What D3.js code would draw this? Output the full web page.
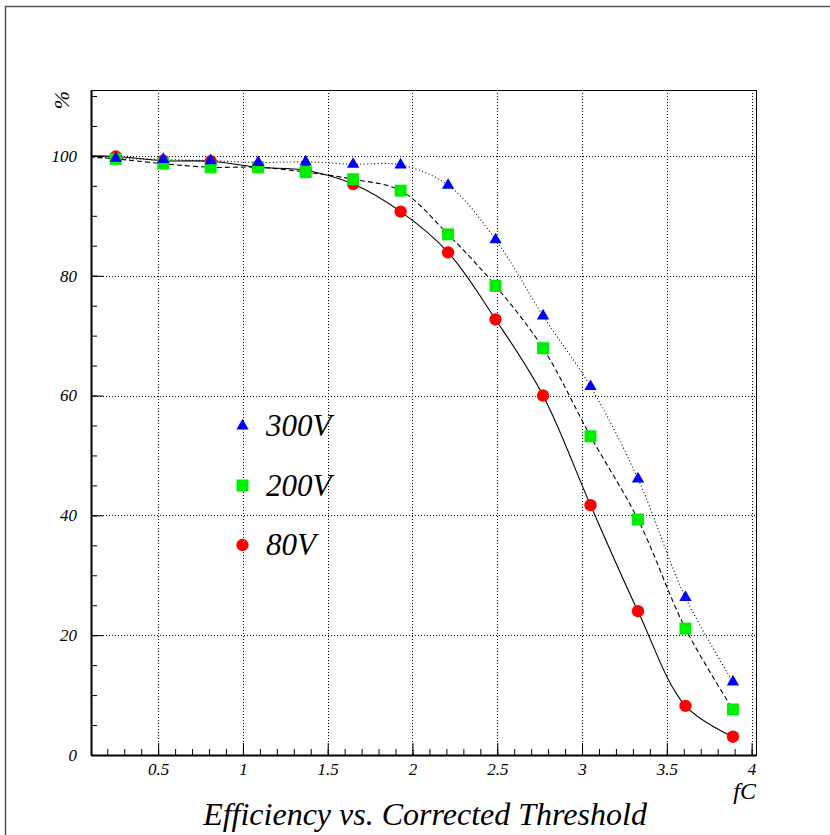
<!DOCTYPE html>
<html>
<head>
<meta charset="utf-8">
<script src="https://cdn.jsdelivr.net/npm/d3@7"></script>
<style>
  html, body { margin: 0; padding: 0; background: #fff; }
  svg { display: block; }
</style>
</head>
<body>
<svg id="chart" width="830" height="835"></svg>
<script>
// threshold (fC) of each measurement
const thresholds = [0.25, 0.53, 0.81, 1.09, 1.37, 1.65, 1.93, 2.21, 2.49, 2.77, 3.05, 3.33, 3.61, 3.89];
// efficiency (%) per bias voltage
const eff300 = [99.6, 99.4, 99.2, 98.9, 99.0, 98.6, 98.5, 95.1, 86.0, 73.3, 61.5, 46.1, 26.3, 12.2];
const eff200 = [99.5, 98.7, 98.1, 98.1, 97.3, 96.1, 94.2, 86.9, 78.3, 67.9, 53.2, 39.3, 21.1, 7.6];
const eff80 = [99.9, 99.2, 99.1, 98.1, 97.6, 95.3, 90.7, 83.9, 72.7, 60.0, 41.7, 24.0, 8.2, 3.05];
// curves start from full efficiency at zero threshold
const curveAnchor = { x: 0, y: 100 };

const xTicks = [0.5, 1, 1.5, 2, 2.5, 3, 3.5, 4];
const yTicks = [0, 20, 40, 60, 80, 100];
const legendLabels = ['300V', '200V', '80V'];

const FONT = 'Liberation Serif';

const svg = d3.select('#chart');
const frame = { left: 91, right: 756, top: 90, bottom: 755 };

const x = d3.scaleLinear().domain([0.104, 4.026]).range([frame.left, frame.right]);
const y = d3.scaleLinear().domain([0, 111]).range([frame.bottom, frame.top]);

// canvas border
svg.append('path')
  .attr('d', 'M5.5,835 L5.5,6.5 L830,6.5')
  .attr('fill', 'none').attr('stroke', '#555').attr('stroke-width', 1.5);

// grid
const grid = svg.append('g').attr('stroke', '#000').attr('stroke-width', 1).attr('stroke-dasharray', '1,2');
grid.selectAll('.vg').data(xTicks).join('line')
  .attr('x1', d => Math.round(x(d)) + 0.5).attr('x2', d => Math.round(x(d)) + 0.5)
  .attr('y1', frame.top).attr('y2', frame.bottom);
grid.selectAll('.hg').data(yTicks.filter(d => d > 0)).join('line')
  .attr('y1', d => Math.round(y(d)) + 0.5).attr('y2', d => Math.round(y(d)) + 0.5)
  .attr('x1', frame.left).attr('x2', frame.right);

// frame
svg.append('rect')
  .attr('x', frame.left + 0.5).attr('y', frame.top + 0.5)
  .attr('width', frame.right - frame.left).attr('height', frame.bottom - frame.top)
  .attr('fill', 'none').attr('stroke', '#000').attr('stroke-width', 1);

// axes: minor ticks, then major ticks with labels
const xMinor = d3.range(0.2, 4.001, 0.1);
const yMinor = d3.range(5, 111, 5);

svg.append('g').attr('transform', `translate(0,${frame.bottom})`)
  .call(d3.axisBottom(x).tickValues(xMinor).tickSize(-6).tickSizeOuter(0).tickFormat(''))
  .call(g => g.select('.domain').remove());
svg.append('g').attr('transform', `translate(${frame.left},0)`)
  .call(d3.axisLeft(y).tickValues(yMinor).tickSize(-6).tickSizeOuter(0).tickFormat(''))
  .call(g => g.select('.domain').remove());

const xAxis = svg.append('g').attr('transform', `translate(0,${frame.bottom})`)
  .call(d3.axisBottom(x).tickValues(xTicks).tickSize(-12).tickSizeOuter(0).tickPadding(8).tickFormat(d3.format('')));
xAxis.select('.domain').attr('stroke-width', 2);

const yAxis = svg.append('g').attr('transform', `translate(${frame.left},0)`)
  .call(d3.axisLeft(y).tickValues(yTicks).tickSize(-12).tickSizeOuter(0).tickPadding(14).tickFormat(d3.format('')));
yAxis.select('.domain').attr('stroke-width', 2);

[xAxis, yAxis].forEach(a => a.attr('font-family', FONT).attr('font-size', 17)
  .selectAll('text').attr('font-style', 'italic'));

// axis titles
const title = (sel) => sel.attr('font-family', FONT).attr('font-style', 'italic').attr('fill', '#000');
svg.append('text').call(title).attr('x', frame.right).attr('y', 799).attr('text-anchor', 'end')
  .attr('font-size', 24).text('fC');
svg.append('text').call(title).attr('transform', 'translate(69,100) rotate(-90)').attr('text-anchor', 'middle')
  .attr('font-size', 22).text('%');
svg.append('text').call(title).attr('x', 425).attr('y', 825).attr('text-anchor', 'middle')
  .attr('font-size', 32).text('Efficiency vs. Corrected Threshold');

// curves
svg.append('clipPath').attr('id', 'clip').append('rect')
  .attr('x', frame.left).attr('y', frame.top)
  .attr('width', frame.right - frame.left).attr('height', frame.bottom - frame.top);

const series = [
  { values: eff80, color: '#ff0000', dash: null, symbol: d3.symbolCircle, size: 120 },
  { values: eff200, color: '#00ee00', dash: '5,3', symbol: d3.symbolSquare, size: 144 },
  { values: eff300, color: '#0000ff', dash: '1,2.5', symbol: d3.symbolTriangle, size: 66 }
];

const line = d3.line().x(d => x(d[0])).y(d => y(d[1])).curve(d3.curveCatmullRom.alpha(0.5));

const curves = svg.append('g').attr('clip-path', 'url(#clip)');
series.forEach(s => {
  const pts = [[curveAnchor.x, curveAnchor.y]].concat(thresholds.map((t, i) => [t, s.values[i]]));
  curves.append('path').attr('d', line(pts))
    .attr('fill', 'none').attr('stroke', '#000').attr('stroke-width', 1.1)
    .attr('stroke-dasharray', s.dash);
});

// markers
series.forEach(s => {
  svg.append('g').selectAll('path').data(thresholds).join('path')
    .attr('transform', (t, i) => `translate(${x(t)},${y(s.values[i])})`)
    .attr('d', d3.symbol().type(s.symbol).size(s.size))
    .attr('fill', s.color);
});

// legend
const legendSeries = [series[2], series[1], series[0]];
const legend = svg.append('g');
legendSeries.forEach((s, i) => {
  const cy = 426 + i * 59.5;
  legend.append('path').attr('transform', `translate(242.5,${cy})`)
    .attr('d', d3.symbol().type(s.symbol).size(s.size)).attr('fill', s.color);
  legend.append('text').call(title).attr('x', 266).attr('y', cy + 10).attr('font-size', 31).text(legendLabels[i]);
});
</script>
</body>
</html>
